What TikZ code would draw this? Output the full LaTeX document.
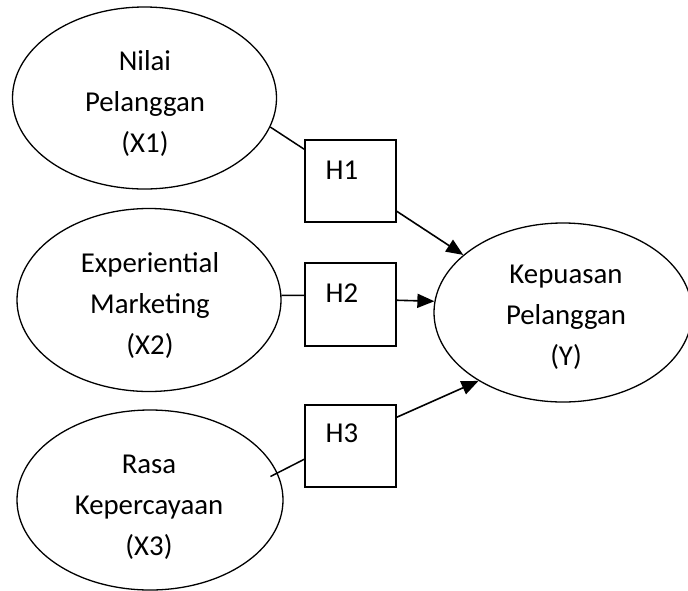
\documentclass[tikz,border=0pt]{standalone}
\usepackage{fontspec}
\setmainfont{Carlito}
\usetikzlibrary{shapes.geometric,arrows.meta,calc}
\tikzset{
  ell/.style={draw, ellipse, line width=1.3pt, inner sep=0pt},
  hbox/.style={draw, rectangle, line width=1.5pt, minimum width=91pt, minimum height=82pt, inner sep=0pt},
  etext/.style={align=center, font=\fontsize{28.8}{41}\selectfont, inner sep=0pt},
  htext/.style={font=\fontsize{28.8}{34}\selectfont, inner sep=0pt},
  conn/.style={line width=1.5pt},
  arr/.style={line width=1.6pt, -{Triangle[length=17pt,width=14pt]}}
}
\begin{document}
\begin{tikzpicture}[x=1pt,y=-1pt]
\useasboundingbox (0,0) rectangle (688,590);
\clip (0,0) rectangle (688,590);
% ellipses
\node[ell, minimum width=264pt, minimum height=182pt] (e1) at (144.5,98) {};
\node[ell, minimum width=264pt, minimum height=183pt] (e2) at (149,300) {};
\node[ell, minimum width=266pt, minimum height=180pt] (e3) at (150,500) {};
\node[ell, minimum width=258pt, minimum height=179pt] (y) at (563,312.5) {};
\node[etext] (t1) at (145,103) {Nilai\\Pelanggan\\(X1)};
\node[etext] (t2) at (150,305) {Experiential\\Marketing\\(X2)};
\node[etext] (t3) at (149,507) {Rasa\\Kepercayaan\\(X3)};
\node[etext] (ty) at (566,317) {Kepuasan\\Pelanggan\\(Y)};
% boxes
\node[hbox] (h1) at (350.5,181) {};
\node[hbox, minimum height=83pt] (h2) at (350.5,304.5) {};
\node[hbox] (h3) at (350.5,446) {};
\node[htext] (l1) at (342,170) {H1};
\node[htext] (l2) at (342,293) {H2};
\node[htext] (l3) at (342,433) {H3};
% connectors
\draw[conn] (e1.-13) -- ([yshift=-10pt]h1.north west);
\draw[conn] (e2.2.6) -- ([yshift=-33pt]h2.north west);
\draw[conn, shorten <=-8pt] (e3.12) -- ([yshift=-55pt]h3.north west);
\draw[arr] ([yshift=-72pt]h1.north east) -- (y.150.5);
\draw[arr] ([yshift=-38pt]h2.north east) -- (y.175.3);
\draw[arr] ([yshift=-13pt]h3.north east) -- (y.219.3);
\end{tikzpicture}
\end{document}
